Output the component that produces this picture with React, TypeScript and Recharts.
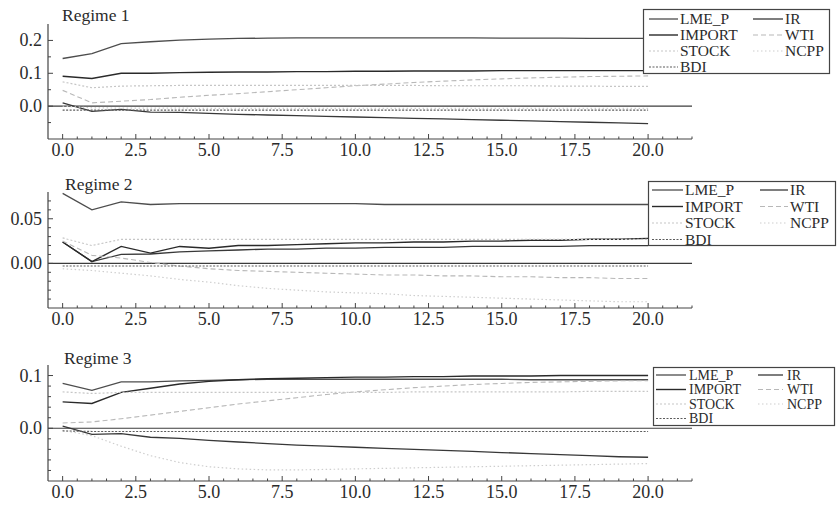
import { LineChart, Line, XAxis, YAxis, ReferenceLine, Legend } from "recharts";

// horizon 0..20
const STEPS = [0, 1, 2, 3, 4, 5, 6, 7, 8, 9, 10, 11, 12, 13, 14, 15, 16, 17, 18, 19, 20];

// Regime 1
const R1_LME_P = [0.145, 0.16, 0.19, 0.196, 0.201, 0.204, 0.206, 0.207, 0.208, 0.208, 0.208, 0.208, 0.208, 0.208, 0.208, 0.207, 0.207, 0.207, 0.206, 0.206, 0.206];
const R1_IR = [0.01, -0.016, -0.01, -0.018, -0.019, -0.022, -0.025, -0.027, -0.029, -0.031, -0.033, -0.035, -0.037, -0.039, -0.041, -0.043, -0.045, -0.047, -0.049, -0.051, -0.053];
const R1_IMPORT = [0.091, 0.084, 0.1, 0.1, 0.102, 0.103, 0.104, 0.104, 0.105, 0.105, 0.106, 0.106, 0.107, 0.107, 0.107, 0.108, 0.108, 0.108, 0.108, 0.108, 0.108];
const R1_WTI = [0.048, 0.01, 0.015, 0.02, 0.027, 0.033, 0.038, 0.044, 0.05, 0.056, 0.062, 0.067, 0.072, 0.076, 0.08, 0.083, 0.086, 0.088, 0.09, 0.091, 0.092];
const R1_STOCK = [0.074, 0.056, 0.061, 0.062, 0.063, 0.063, 0.063, 0.063, 0.063, 0.063, 0.063, 0.063, 0.063, 0.062, 0.062, 0.062, 0.062, 0.061, 0.061, 0.06, 0.06];
const R1_NCPP = [0.0, -0.005, -0.006, -0.006, -0.006, -0.007, -0.007, -0.007, -0.007, -0.007, -0.007, -0.007, -0.007, -0.007, -0.007, -0.007, -0.007, -0.007, -0.007, -0.007, -0.007];
const R1_BDI = [-0.012, -0.012, -0.012, -0.012, -0.012, -0.012, -0.012, -0.012, -0.012, -0.012, -0.012, -0.012, -0.012, -0.012, -0.012, -0.012, -0.012, -0.012, -0.012, -0.012, -0.012];

// Regime 2
const R2_LME_P = [0.0785, 0.06, 0.069, 0.066, 0.067, 0.067, 0.067, 0.067, 0.067, 0.067, 0.067, 0.066, 0.066, 0.066, 0.066, 0.066, 0.066, 0.066, 0.066, 0.066, 0.066];
const R2_IR = [0.024, 0.002, 0.01, 0.0105, 0.013, 0.014, 0.015, 0.016, 0.016, 0.017, 0.017, 0.018, 0.018, 0.018, 0.019, 0.019, 0.019, 0.019, 0.02, 0.02, 0.02];
const R2_IMPORT = [0.024, 0.002, 0.019, 0.0115, 0.019, 0.017, 0.02, 0.02, 0.021, 0.022, 0.023, 0.023, 0.024, 0.024, 0.025, 0.025, 0.026, 0.026, 0.027, 0.027, 0.028];
const R2_WTI = [0.025, 0.009, 0.006, 0.001, -0.003, -0.006, -0.008, -0.009, -0.01, -0.011, -0.012, -0.013, -0.013, -0.014, -0.014, -0.015, -0.015, -0.016, -0.016, -0.017, -0.017];
const R2_STOCK = [0.0285, 0.02, 0.027, 0.027, 0.027, 0.027, 0.027, 0.027, 0.027, 0.027, 0.027, 0.027, 0.027, 0.027, 0.027, 0.027, 0.027, 0.027, 0.027, 0.027, 0.027];
const R2_NCPP = [-0.006, -0.008, -0.011, -0.014, -0.018, -0.021, -0.025, -0.028, -0.03, -0.032, -0.033, -0.034, -0.036, -0.037, -0.038, -0.039, -0.04, -0.041, -0.042, -0.043, -0.043];
const R2_BDI = [-0.003, -0.003, -0.003, -0.003, -0.003, -0.003, -0.003, -0.003, -0.003, -0.003, -0.003, -0.003, -0.003, -0.003, -0.003, -0.003, -0.003, -0.003, -0.003, -0.003, -0.003];

// Regime 3
const R3_LME_P = [0.085, 0.072, 0.088, 0.088, 0.09, 0.091, 0.092, 0.093, 0.093, 0.093, 0.093, 0.093, 0.093, 0.093, 0.093, 0.093, 0.092, 0.092, 0.092, 0.092, 0.092];
const R3_IR = [0.004, -0.0115, -0.01, -0.017, -0.019, -0.023, -0.026, -0.029, -0.032, -0.034, -0.036, -0.038, -0.04, -0.042, -0.044, -0.046, -0.048, -0.05, -0.052, -0.054, -0.055];
const R3_IMPORT = [0.05, 0.047, 0.068, 0.076, 0.084, 0.089, 0.092, 0.094, 0.095, 0.096, 0.097, 0.097, 0.098, 0.098, 0.099, 0.099, 0.099, 0.1, 0.1, 0.1, 0.1];
const R3_WTI = [0.01, 0.012, 0.018, 0.025, 0.032, 0.039, 0.046, 0.052, 0.058, 0.064, 0.069, 0.073, 0.077, 0.08, 0.083, 0.085, 0.087, 0.088, 0.089, 0.09, 0.09];
const R3_STOCK = [0.069, 0.066, 0.068, 0.068, 0.068, 0.068, 0.068, 0.068, 0.068, 0.068, 0.068, 0.068, 0.069, 0.069, 0.069, 0.069, 0.069, 0.069, 0.07, 0.07, 0.07];
const R3_NCPP = [-0.004, -0.014, -0.034, -0.052, -0.065, -0.073, -0.077, -0.079, -0.079, -0.078, -0.077, -0.076, -0.075, -0.074, -0.073, -0.072, -0.071, -0.07, -0.069, -0.068, -0.067];
const R3_BDI = [-0.005, -0.006, -0.006, -0.006, -0.006, -0.006, -0.006, -0.006, -0.006, -0.006, -0.006, -0.006, -0.006, -0.006, -0.006, -0.006, -0.006, -0.006, -0.006, -0.006, -0.006];

// x ticks: labelled every 2.5, small marks every 0.5
const X_MAJOR = [0, 2.5, 5, 7.5, 10, 12.5, 15, 17.5, 20];
const X_TICKS = Array.from({ length: 44 }, (_, i) => i * 0.5);

const FONT = '"Liberation Serif", "Times New Roman", serif';
const INK = "#2b2b2b";

type SeriesStyle = { key: string; color: string; dash?: string; width: number };

// order matches the legend (row by row, two columns)
const SERIES: SeriesStyle[] = [
  { key: "LME_P", color: "#4d4d4d", width: 1.3 },
  { key: "IR", color: "#383838", width: 1.3 },
  { key: "IMPORT", color: "#2a2a2a", width: 1.4 },
  { key: "WTI", color: "#b8b8b8", dash: "5 3", width: 1.1 },
  { key: "STOCK", color: "#c6c6c6", dash: "2 2", width: 1.2 },
  { key: "NCPP", color: "#cecece", dash: "1.5 2.5", width: 1.2 },
  { key: "BDI", color: "#5c5c5c", dash: "2 1.5", width: 1.1 },
];

interface LegendLayout {
  left: number;
  top: number;
  width: number;
  height: number;
  fontSize: number;
  rowY: number[];
  col: { x1: number; x2: number; tx: number }[];
}

interface Regime {
  title: string;
  values: Record<string, number[]>;
  yDomain: [number, number];
  yMajor: number[];
  yMinor: number[];
  digits: number;
  top: number;
  margin: { top: number; bottom: number };
  titleAt: { left: number; top: number };
  legend: LegendLayout;
}

const REGIMES: Regime[] = [
  {
    title: "Regime 1",
    values: { LME_P: R1_LME_P, IR: R1_IR, IMPORT: R1_IMPORT, WTI: R1_WTI, STOCK: R1_STOCK, NCPP: R1_NCPP, BDI: R1_BDI },
    yDomain: [-0.1, 0.25],
    yMajor: [0, 0.1, 0.2],
    yMinor: [-0.05, 0.05, 0.15],
    digits: 1,
    top: 0,
    margin: { top: 24, bottom: 29 },
    titleAt: { left: 62, top: 5 },
    legend: {
      left: 643, top: 9, width: 187, height: 65, fontSize: 15.5,
      rowY: [10, 26, 42, 58],
      col: [{ x1: 6, x2: 35, tx: 37 }, { x1: 110, x2: 140, tx: 142 }],
    },
  },
  {
    title: "Regime 2",
    values: { LME_P: R2_LME_P, IR: R2_IR, IMPORT: R2_IMPORT, WTI: R2_WTI, STOCK: R2_STOCK, NCPP: R2_NCPP, BDI: R2_BDI },
    yDomain: [-0.05, 0.08],
    yMajor: [0, 0.05],
    yMinor: [-0.04, -0.03, -0.02, -0.01, 0.01, 0.02, 0.03, 0.04, 0.06, 0.07],
    digits: 2,
    top: 168,
    margin: { top: 24, bottom: 28 },
    titleAt: { left: 65, top: 6 },
    legend: {
      left: 648, top: 13, width: 188, height: 65, fontSize: 15.5,
      rowY: [9, 25.5, 42, 58.5],
      col: [{ x1: 4, x2: 35, tx: 37 }, { x1: 112, x2: 140, tx: 142 }],
    },
  },
  {
    title: "Regime 3",
    values: { LME_P: R3_LME_P, IR: R3_IR, IMPORT: R3_IMPORT, WTI: R3_WTI, STOCK: R3_STOCK, NCPP: R3_NCPP, BDI: R3_BDI },
    yDomain: [-0.1, 0.12],
    yMajor: [0, 0.1],
    yMinor: [-0.08, -0.06, -0.04, -0.02, 0.02, 0.04, 0.06, 0.08],
    digits: 1,
    top: 336,
    margin: { top: 29, bottom: 23 },
    titleAt: { left: 64, top: 12 },
    legend: {
      left: 653, top: 31, width: 182, height: 59, fontSize: 14,
      rowY: [8, 22.5, 37, 51.5],
      col: [{ x1: 3, x2: 33, tx: 36 }, { x1: 105, x2: 130, tx: 134 }],
    },
  },
];

function XTick(props: any) {
  const { x, y, payload } = props;
  const v = payload.value as number;
  const major = X_MAJOR.includes(v);
  return (
    <g>
      <line x1={x} x2={x} y1={y} y2={y - (major ? 5 : 2.5)} stroke="#444" strokeWidth={1} />
      {major && (
        <text x={x} y={y + 17} textAnchor="middle" fontFamily={FONT} fontSize={18} fill={INK}>
          {v.toFixed(1)}
        </text>
      )}
    </g>
  );
}

function makeYTick(major: number[], digits: number) {
  return function YTick(props: any) {
    const { x, y, payload } = props;
    const v = payload.value as number;
    const isMajor = major.some((m) => Math.abs(m - v) < 1e-9);
    return (
      <g>
        <line x1={x} x2={x + (isMajor ? 5 : 3)} y1={y} y2={y} stroke="#444" strokeWidth={1} />
        {isMajor && (
          <text x={x - 6} y={y + 6} textAnchor="end" fontFamily={FONT} fontSize={18} fill={INK}>
            {v.toFixed(digits)}
          </text>
        )}
      </g>
    );
  };
}

function LegendBox({ lg }: { lg: LegendLayout }) {
  return (
    <svg width={lg.width} height={lg.height} style={{ display: "block", overflow: "visible" }}>
      <rect x={0.5} y={0.5} width={lg.width - 1} height={lg.height - 1} fill="#fff" stroke="#444" strokeWidth={1.2} />
      {SERIES.map((s, i) => {
        const row = Math.floor(i / 2);
        const c = lg.col[i % 2];
        const y = lg.rowY[row];
        return (
          <g key={s.key}>
            <line x1={c.x1} x2={c.x2} y1={y} y2={y} stroke={s.color} strokeWidth={s.width} strokeDasharray={s.dash} />
            <text x={c.tx} y={y + lg.fontSize * 0.34} fontFamily={FONT} fontSize={lg.fontSize} fill={INK}>
              {s.key}
            </text>
          </g>
        );
      })}
    </svg>
  );
}

function RegimePanel({ r }: { r: Regime }) {
  const data = STEPS.map((t, i) => {
    const row: Record<string, number> = { t };
    SERIES.forEach((s) => {
      row[s.key] = r.values[s.key][i];
    });
    return row;
  });
  const YTick = makeYTick(r.yMajor, r.digits);
  return (
    <div style={{ position: "absolute", left: 0, top: r.top, width: 837, height: 168 }}>
      <LineChart
        width={837}
        height={168}
        data={data}
        margin={{ top: r.margin.top, right: 145, bottom: 0, left: 0 }}
      >
        <XAxis
          dataKey="t"
          type="number"
          domain={[-0.5, 21.5]}
          allowDataOverflow
          ticks={X_TICKS}
          interval={0}
          tickSize={0}
          tickMargin={0}
          tickLine={false}
          height={r.margin.bottom}
          axisLine={{ stroke: "#444", strokeWidth: 1.2 }}
          tick={<XTick />}
        />
        <YAxis
          type="number"
          domain={r.yDomain}
          allowDataOverflow
          ticks={[...r.yMinor, ...r.yMajor]}
          interval={0}
          tickSize={0}
          tickMargin={0}
          tickLine={false}
          width={48}
          axisLine={{ stroke: "#444", strokeWidth: 1.2 }}
          tick={<YTick />}
        />
        <ReferenceLine y={0} stroke="#3c3c3c" strokeWidth={1.2} />
        {SERIES.map((s) => (
          <Line
            key={s.key}
            dataKey={s.key}
            type="linear"
            stroke={s.color}
            strokeWidth={s.width}
            strokeDasharray={s.dash}
            dot={false}
            activeDot={false}
            isAnimationActive={false}
          />
        ))}
        <Legend
          layout="vertical"
          align="center"
          verticalAlign="middle"
          wrapperStyle={{ position: "absolute", left: r.legend.left, top: r.legend.top, width: r.legend.width, height: r.legend.height }}
          content={() => <LegendBox lg={r.legend} />}
        />
      </LineChart>
      <div
        style={{
          position: "absolute",
          left: r.titleAt.left,
          top: r.titleAt.top,
          fontFamily: FONT,
          fontSize: 17.5,
          color: INK,
          lineHeight: "20px",
          whiteSpace: "nowrap",
        }}
      >
        {r.title}
      </div>
    </div>
  );
}

export default function App() {
  return (
    <div style={{ position: "absolute", left: 0, top: 0, width: 837, height: 506, background: "#fff", overflow: "hidden" }}>
      {REGIMES.map((r) => (
        <RegimePanel key={r.title} r={r} />
      ))}
    </div>
  );
}
